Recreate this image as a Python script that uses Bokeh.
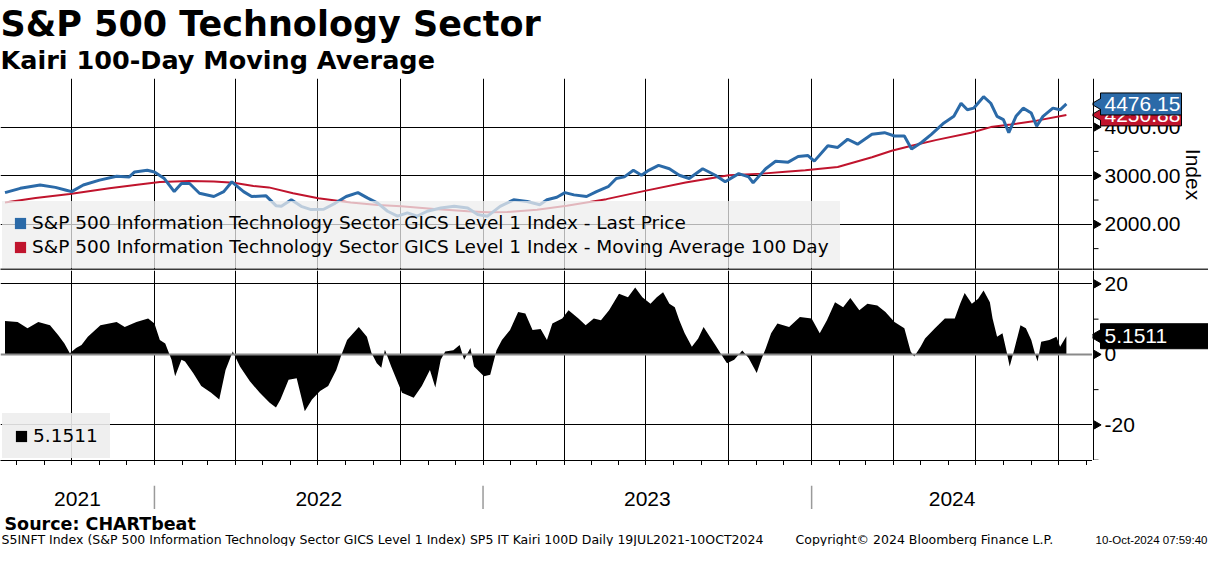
import math

import pandas as pd

from bokeh.core.properties import value
from bokeh.plotting import figure
from bokeh.layouts import column, row
from bokeh.models import (Range1d, FixedTicker, Legend, LegendItem, Label, Span)
from bokeh.embed import file_html
from bokeh.resources import INLINE

# values
price_dates = [
    "2021-07-19", "2021-08-05", "2021-08-27", "2021-09-13", "2021-09-24", "2021-10-01",
    "2021-10-14", "2021-11-01", "2021-11-20", "2021-12-04", "2021-12-10", "2021-12-24",
    "2022-01-01", "2022-01-12", "2022-01-23", "2022-01-31", "2022-02-09", "2022-02-20",
    "2022-03-08", "2022-03-19", "2022-03-28", "2022-04-10", "2022-04-19", "2022-05-05",
    "2022-05-16", "2022-05-22", "2022-06-02", "2022-06-13", "2022-06-24", "2022-07-08",
    "2022-07-21", "2022-08-02", "2022-08-15", "2022-08-26", "2022-09-06", "2022-09-17",
    "2022-09-28", "2022-10-09", "2022-10-20", "2022-10-31", "2022-11-15", "2022-11-30",
    "2022-12-15", "2022-12-26", "2023-01-06", "2023-01-20", "2023-02-04", "2023-02-19",
    "2023-03-05", "2023-03-13", "2023-03-24", "2023-04-02", "2023-04-12", "2023-04-26",
    "2023-05-07", "2023-05-20", "2023-05-29", "2023-06-07", "2023-06-17", "2023-06-26",
    "2023-07-04", "2023-07-15", "2023-07-27", "2023-08-07", "2023-08-18", "2023-09-02",
    "2023-09-16", "2023-09-27", "2023-10-12", "2023-10-23", "2023-10-28", "2023-11-11",
    "2023-11-22", "2023-12-06", "2023-12-17", "2023-12-28", "2024-01-04", "2024-01-19",
    "2024-01-30", "2024-02-10", "2024-02-21", "2024-03-08", "2024-03-22", "2024-04-02",
    "2024-04-13", "2024-04-21", "2024-05-02", "2024-05-13", "2024-05-27", "2024-06-07",
    "2024-06-15", "2024-06-22", "2024-06-29", "2024-07-10", "2024-07-18", "2024-07-25",
    "2024-08-01", "2024-08-07", "2024-08-15", "2024-08-23", "2024-09-01", "2024-09-07",
    "2024-09-14", "2024-09-25", "2024-10-03", "2024-10-10",
]
price_values = [
    2653, 2740, 2808, 2760, 2707, 2673,
    2808, 2909, 2990, 2976, 3077, 3111,
    3077, 2942, 2673, 2841, 2841, 2639,
    2572, 2673, 2875, 2673, 2572, 2586,
    2384, 2370, 2505, 2370, 2303, 2310,
    2437, 2572, 2653, 2538, 2437, 2269,
    2168, 2235, 2168, 2269, 2336, 2370,
    2336, 2202, 2168, 2370, 2505, 2471,
    2404, 2505, 2558, 2653, 2606, 2572,
    2673, 2774, 2942, 2976, 3111, 3010,
    3111, 3212, 3144, 3010, 2942, 3144,
    3010, 2875, 3043, 2976, 2855, 3144,
    3299, 3279, 3394, 3414, 3300, 3616,
    3582, 3750, 3649, 3851, 3885, 3818,
    3818, 3548, 3683, 3851, 4087, 4222,
    4491, 4356, 4390, 4626, 4491, 4222,
    4154, 3885, 4222, 4390, 4289, 4020,
    4222, 4390, 4356, 4476.15,
]

ma_dates = [
    "2021-07-19", "2021-08-22", "2021-09-29", "2021-11-12", "2021-12-15", "2022-01-07",
    "2022-02-09", "2022-03-08", "2022-03-30", "2022-04-21", "2022-05-08", "2022-06-04",
    "2022-07-02", "2022-08-07", "2022-09-06", "2022-10-02", "2022-11-08", "2022-12-15",
    "2023-01-06", "2023-01-28", "2023-03-02", "2023-04-04", "2023-05-18", "2023-07-01",
    "2023-08-14", "2023-10-01", "2023-11-07", "2023-12-03", "2023-12-25", "2024-01-30",
    "2024-03-08", "2024-03-30", "2024-04-21", "2024-05-19", "2024-06-26", "2024-07-18",
    "2024-08-09", "2024-09-07", "2024-10-10",
]
ma_values = [
    2450, 2540, 2626, 2740, 2820, 2870,
    2890, 2880, 2855, 2790, 2760, 2640,
    2538, 2450, 2400, 2370, 2316, 2270,
    2249, 2255, 2300, 2380, 2518, 2693,
    2860, 3010, 3043, 3080, 3111, 3178,
    3380, 3515, 3616, 3737, 3885, 4000,
    4053, 4133, 4250.88,
]

kairi_dates = [
    "2021-07-19", "2021-08-02", "2021-08-13", "2021-08-25", "2021-09-07", "2021-09-16",
    "2021-09-23", "2021-09-29", "2021-10-06", "2021-10-12", "2021-10-19", "2021-11-02",
    "2021-11-20", "2021-11-29", "2021-12-12", "2021-12-25", "2022-01-01", "2022-01-07",
    "2022-01-13", "2022-01-20", "2022-01-24", "2022-01-31", "2022-02-04", "2022-02-13",
    "2022-02-22", "2022-03-05", "2022-03-14", "2022-03-21", "2022-03-29", "2022-04-06",
    "2022-04-17", "2022-04-28", "2022-05-09", "2022-05-16", "2022-05-21", "2022-05-30",
    "2022-06-08", "2022-06-17", "2022-06-25", "2022-07-04", "2022-07-13", "2022-07-22",
    "2022-07-27", "2022-08-03", "2022-08-16", "2022-08-25", "2022-08-30", "2022-09-05",
    "2022-09-10", "2022-09-14", "2022-09-21", "2022-10-03", "2022-10-16", "2022-10-25",
    "2022-11-03", "2022-11-09", "2022-11-15", "2022-11-20", "2022-11-29", "2022-12-06",
    "2022-12-11", "2022-12-18", "2022-12-22", "2023-01-02", "2023-01-09", "2023-01-16",
    "2023-01-22", "2023-01-31", "2023-02-09", "2023-02-17", "2023-02-25", "2023-03-06",
    "2023-03-13", "2023-03-19", "2023-03-30", "2023-04-06", "2023-04-17", "2023-04-25",
    "2023-05-04", "2023-05-12", "2023-05-21", "2023-06-01", "2023-06-11", "2023-06-19",
    "2023-06-27", "2023-07-06", "2023-07-13", "2023-07-20", "2023-07-27", "2023-08-02",
    "2023-08-07", "2023-08-13", "2023-08-21", "2023-08-28", "2023-09-03", "2023-09-10",
    "2023-09-16", "2023-09-23", "2023-09-29", "2023-10-07", "2023-10-16", "2023-10-23",
    "2023-11-01", "2023-11-06", "2023-11-11", "2023-11-17", "2023-11-24", "2023-12-07",
    "2023-12-19", "2024-01-01", "2024-01-10", "2024-01-18", "2024-01-27", "2024-02-05",
    "2024-02-13", "2024-02-23", "2024-03-03", "2024-03-14", "2024-03-23", "2024-04-02",
    "2024-04-13", "2024-04-20", "2024-04-24", "2024-05-01", "2024-05-06", "2024-05-17",
    "2024-05-28", "2024-06-08", "2024-06-14", "2024-06-19", "2024-06-27", "2024-07-04",
    "2024-07-10", "2024-07-17", "2024-07-20", "2024-07-25", "2024-07-31", "2024-08-05",
    "2024-08-08", "2024-08-13", "2024-08-20", "2024-08-26", "2024-09-01", "2024-09-05",
    "2024-09-08", "2024-09-12", "2024-09-21", "2024-09-29", "2024-10-03", "2024-10-10",
]
kairi_values = [
    9.5, 9.2, 7.4, 9.2, 8.3, 5.5,
    3.1, 0.3, 1.8, 2.7, 5.0, 8.3,
    9.2, 7.8, 9.2, 10.2, 8.8, 4.1,
    3.1, -1.5, -6.2, -1.5, -2.0, -5.3,
    -9.0, -10.9, -12.8, -4.4, 0.8, -3.4,
    -7.6, -10.9, -13.7, -15.1, -12.8, -7.2,
    -6.8, -16.1, -12.8, -10.4, -9.0, -4.4,
    -0.6, 4.1, 7.8, 5.0, 0.5, -2.5,
    -3.8, 1.3, -3.4, -10.9, -12.3, -9.0,
    -4.4, -9.4, -1.5, 0.8, 1.2, 2.7,
    -1.5, 1.8, -3.4, -6.2, -5.8, 1.2,
    4.1, 6.9, 12.0, 11.6, 6.9, 7.2,
    4.1, 8.8, 10.2, 12.5, 10.2, 8.3,
    10.2, 9.7, 12.5, 17.2, 16.2, 19.0,
    16.2, 14.4, 16.2, 17.6, 14.4, 13.4,
    9.7, 6.0, 2.2, 4.5, 7.8, 5.0,
    2.7, -0.2, -2.5, -1.5, 1.1, -1.0,
    -5.3, -1.5, 1.7, 6.0, 8.8, 7.8,
    10.6, 10.2, 6.0, 9.7, 14.8, 13.4,
    16.0, 12.5, 14.4, 13.9, 12.0, 9.2,
    7.4, 0.8, -0.6, 2.2, 4.5, 7.4,
    10.2, 10.2, 14.4, 17.4, 14.4, 15.8,
    18.1, 14.8, 10.2, 5.0, 6.0, 0.3,
    -3.4, 1.3, 8.3, 7.4, 4.1, 0.3,
    -2.0, 3.6, 4.1, 5.0, 2.2, 5.1511,
]

price_ticks = [2000, 3000, 4000]
price_minor = [1500, 2500, 3500, 4500]
kairi_ticks = [-20, 0, 20]
kairi_minor = [-30, -10, 10]

title = "S&P 500 Technology Sector"
subtitle = "Kairi 100-Day Moving Average"
price_label = "S&P 500 Information Technology Sector GICS Level 1 Index - Last Price"
ma_label = "S&P 500 Information Technology Sector GICS Level 1 Index - Moving Average 100 Day"
source = "Source: CHARTbeat"
foot_left = ("S5INFT Index (S&P 500 Information Technology Sector GICS Level 1 Index) "
             "SP5 IT Kairi 100D  Daily 19JUL2021-10OCT2024")
foot_mid = "Copyright\u00a9 2024 Bloomberg Finance L.P."
foot_right = "10-Oct-2024 07:59:40"

BLUE = "#2b6aa8"
RED = "#c0142d"
FONT = "DejaVu Sans"
NUMFONT = "Liberation Sans"

W = 1208
MAIN_W = 1092
SIDE_W = W - MAIN_W


def ms(dates):
    return [float(pd.Timestamp(d).value // 10**6) for d in dates]


def bare(fig):
    fig.outline_line_color = None
    fig.grid.visible = False
    return fig


def plain(w, h, **kw):
    return bare(figure(frame_width=w, frame_height=h, x_range=Range1d(0, w),
                       y_range=Range1d(0, h), x_axis_location=None, y_axis_location=None,
                       toolbar_location=None, output_backend="svg", min_border=0, **kw))


price_x = pd.to_datetime(price_dates)
ma_x = pd.to_datetime(ma_dates)
kairi_x = pd.to_datetime(kairi_dates)

x_start = pd.Timestamp("2021-07-14")
x_end = pd.Timestamp("2024-11-08")
x_range = Range1d(x_start, x_end)

quarters = ms(pd.date_range("2021-10-01", "2024-10-01", freq="QS"))
months = ms(pd.date_range("2021-08-01", "2024-11-01", freq="MS"))
year_starts = ms(["2022-01-01", "2023-01-01", "2024-01-01"])
year_edges = [ms([x_start])[0]] + year_starts + [ms([x_end])[0]]
year_mids = [(a + b) / 2 for a, b in zip(year_edges[:-1], year_edges[1:])]
year_names = ["2021", "2022", "2023", "2024"]

top_y = Range1d(1050, 5000)
bot_y = Range1d(-30.1, 23.8)


def divider(ax):
    ax.ticker = FixedTicker(ticks=[])
    ax.axis_line_width = 4
    ax.axis_line_color = "#3a3a3a"
    ax.major_tick_out = 0
    ax.major_tick_in = 0
    ax.minor_tick_out = 0
    ax.minor_tick_in = 0
    ax.major_label_standoff = 0


def side_axis(fig, ticks, minor, fmt):
    # right-hand value scale drawn next to the panel
    fig.add_layout(Span(location=0, dimension="height", line_color="black", line_width=1))
    fig.segment(x0=0, x1=5, y0=minor, y1=minor, line_color="black", line_width=1)
    fig.scatter(x=[3] * len(ticks), y=ticks, marker="triangle", angle=-math.pi / 2,
                size=8, fill_color="black", line_color="black")
    fig.text(x=[11] * len(ticks), y=ticks, text=[fmt.format(t) for t in ticks],
             text_font=value(NUMFONT), text_font_size="21px", text_color="black",
             text_baseline="middle", text_align="left")


def callout(fig, y, text, color, right, h=22):
    left = 7
    fig.rect(x=[(left + right) / 2], y=[y], width=[right - left], height=[h],
             height_units="screen", fill_color=color, line_color="black", line_width=1)
    fig.scatter(x=[left + 1], y=[y], marker="triangle", angle=math.pi / 2, size=h - 4,
                fill_color=color, line_color="black", line_width=1)
    fig.rect(x=[(left + right) / 2], y=[y], width=[right - left - 1], height=[h - 2],
             height_units="screen", fill_color=color, line_color=None)
    fig.text(x=[11], y=[y], text=[text], text_font=value(NUMFONT), text_font_size="21px",
             text_color="white", text_baseline="middle", text_align="left")


def key_legend(items, **kw):
    # border kept invisible so that the padding is applied
    return Legend(items=items, location="bottom_left", background_fill_color="#ededed",
                  border_line_color="#ededed", border_line_alpha=0.0,
                  label_text_font=FONT, label_text_font_size="18.5px",
                  label_text_color="black", glyph_width=14, glyph_height=14,
                  label_standoff=5, **kw)


# ---------- heading
head = plain(MAIN_W, 78, min_border_right=SIDE_W)
head.add_layout(Label(x=0, y=75, text=title, text_font=FONT, text_font_size="35px",
                      text_font_style="bold", text_color="black", text_baseline="top"))
head.add_layout(Label(x=0, y=34, text=subtitle, text_font=FONT, text_font_size="25.5px",
                      text_font_style="bold", text_color="black", text_baseline="top"))

# ---------- top panel: price and moving average
top = figure(x_axis_type="datetime", x_range=x_range, y_range=top_y,
             frame_width=MAIN_W, frame_height=192, y_axis_location=None,
             toolbar_location=None, output_backend="svg", min_border=0)
top.outline_line_color = None
ma_line = top.line(ma_x, ma_values, line_color=RED, line_width=2)
price_line = top.line(price_x, price_values, line_color=BLUE, line_width=3)

key_blue = top.quad(left=[math.nan], right=[math.nan], top=[math.nan], bottom=[math.nan],
                    fill_color=BLUE, line_color=None)
key_red = top.quad(left=[math.nan], right=[math.nan], top=[math.nan], bottom=[math.nan],
                   fill_color=RED, line_color=None)
top.add_layout(key_legend([LegendItem(label=price_label, renderers=[key_blue]),
                           LegendItem(label=ma_label, renderers=[key_red])],
                          background_fill_alpha=0.75, padding=11, spacing=3, margin=2))

top.ygrid.ticker = FixedTicker(ticks=price_ticks)
top.xgrid.ticker = FixedTicker(ticks=quarters)
for g in (top.xgrid, top.ygrid):
    g.grid_line_color = "black"
    g.grid_line_width = 1
divider(top.xaxis[0])

top_side = bare(figure(frame_width=SIDE_W, frame_height=192,
                       x_range=Range1d(-1, SIDE_W - 1), y_range=top_y,
                       y_axis_location=None, toolbar_location=None,
                       output_backend="svg", min_border=0))
divider(top_side.xaxis[0])
side_axis(top_side, price_ticks, price_minor, "{:.2f}")
top_side.text(x=[100], y=[(top_y.start + top_y.end) / 2], text=["Index"], angle=-math.pi / 2,
              text_font=value(NUMFONT), text_font_size="21px", text_color="black",
              text_baseline="middle", text_align="center")
callout(top_side, ma_values[-1], f"{ma_values[-1]:.2f}", RED, 88)
callout(top_side, price_values[-1], f"{price_values[-1]:.2f}", BLUE, 88)

# ---------- bottom panel: Kairi
bot = figure(x_axis_type="datetime", x_range=x_range, y_range=bot_y,
             frame_width=MAIN_W, frame_height=190, y_axis_location=None,
             toolbar_location=None, output_backend="svg", min_border=0)
bot.outline_line_color = None
bot.varea(x=kairi_x, y1=0, y2=kairi_values, fill_color="black")
bot.add_layout(Span(location=0, dimension="width", line_color="#8a8a8a", line_width=2))

key_black = bot.quad(left=[math.nan], right=[math.nan], top=[math.nan], bottom=[math.nan],
                     fill_color="black", line_color=None)
bot.add_layout(key_legend([LegendItem(label=f"{kairi_values[-1]:.4f}", renderers=[key_black])],
                          background_fill_alpha=0.9, padding=12, margin=2))

bot.ygrid.ticker = FixedTicker(ticks=[-20, 20])
bot.xgrid.ticker = FixedTicker(ticks=quarters)
for g in (bot.xgrid, bot.ygrid):
    g.grid_line_color = "black"
    g.grid_line_width = 1

xb = bot.xaxis[0]
xb.ticker = FixedTicker(ticks=[], minor_ticks=months)
xb.axis_line_color = "black"
xb.major_tick_out = 5
xb.major_tick_in = 0
xb.minor_tick_out = 5
xb.minor_tick_in = 0
xb.major_label_standoff = 0

bot_side = bare(figure(frame_width=SIDE_W, frame_height=190,
                       x_range=Range1d(-1, SIDE_W - 1), y_range=bot_y,
                       x_axis_location=None, y_axis_location=None, toolbar_location=None,
                       output_backend="svg", min_border=0))
side_axis(bot_side, kairi_ticks, kairi_minor, "{:d}")
callout(bot_side, kairi_values[-1], f"{kairi_values[-1]:.4f}", "black", SIDE_W + 2, h=25)

# ---------- year band
years = bare(figure(frame_width=MAIN_W, frame_height=24, x_range=x_range,
                    y_range=Range1d(0, 24), x_axis_location=None, y_axis_location=None,
                    toolbar_location=None, output_backend="svg",
                    min_border=0, min_border_top=20, min_border_right=SIDE_W))
for ys in year_starts:
    years.add_layout(Span(location=ys, dimension="height", line_color="#9a9a9a", line_width=1.5))
years.text(x=year_mids, y=[11] * len(year_mids), text=year_names,
           text_font=value(NUMFONT), text_font_size="21px", text_color="black",
           text_baseline="middle", text_align="center")

# ---------- footer
foot = plain(MAIN_W, 37)
foot.add_layout(Label(x=4, y=23, text=source, text_font=FONT, text_font_size="17.5px",
                      text_font_style="bold", text_color="black", text_baseline="middle"))
foot.add_layout(Label(x=1, y=7, text=foot_left, text_font=FONT, text_font_size="12.5px",
                      text_color="black", text_baseline="middle"))
foot.add_layout(Label(x=795, y=7, text=foot_mid, text_font=FONT, text_font_size="12.5px",
                      text_color="black", text_baseline="middle"))
foot_side = plain(SIDE_W, 37)
foot_side.add_layout(Label(x=SIDE_W - 1, y=7, text=foot_right, text_align="right",
                           text_font=NUMFONT, text_font_size="11.5px",
                           text_color="black", text_baseline="middle"))

p = column(head, row(top, top_side), row(bot, bot_side), years, row(foot, foot_side))
open("out.html", "w").write(file_html(p, INLINE))
